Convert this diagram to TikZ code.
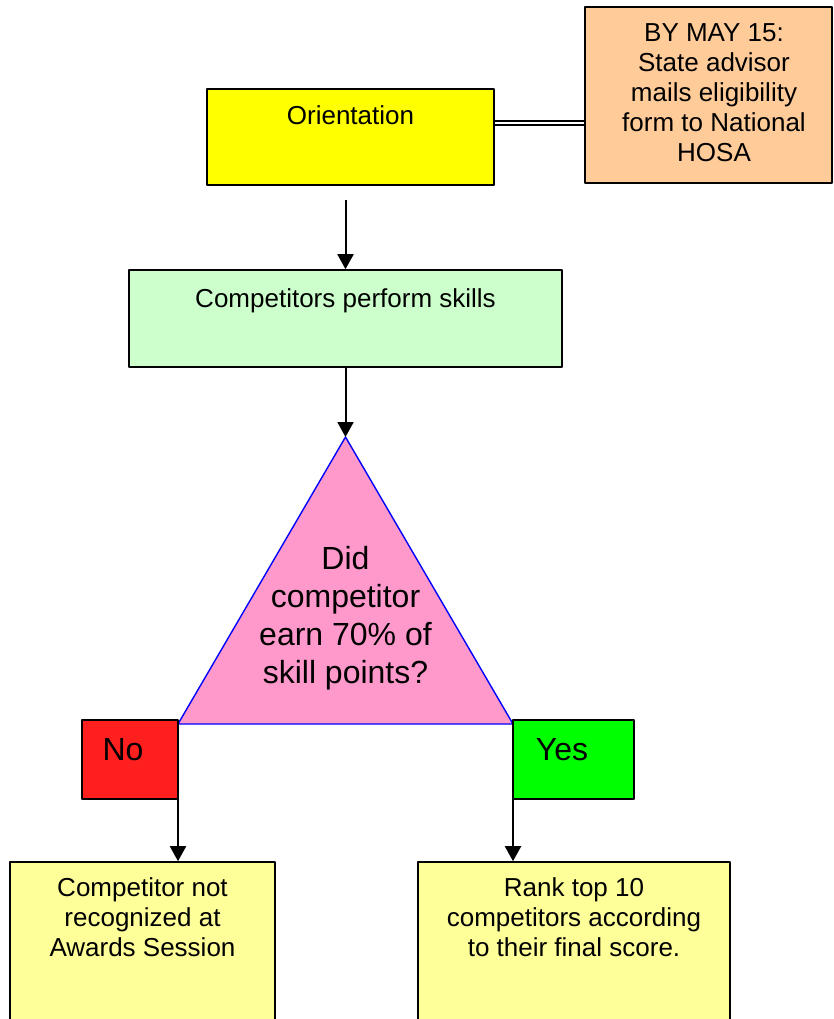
\documentclass[tikz,border=0pt]{standalone}
\usepackage{fontspec}
\setmainfont{Liberation Sans}
\usetikzlibrary{arrows.meta,positioning}
\definecolor{orientyellow}{HTML}{FFFF00}
\definecolor{deadlinepeach}{HTML}{FFCC99}
\definecolor{performgreen}{HTML}{CCFFCC}
\definecolor{questionpink}{HTML}{FF99CC}
\definecolor{nored}{HTML}{FF1F1F}
\definecolor{yesgreen}{HTML}{00FF00}
\definecolor{resultyellow}{HTML}{FFFF99}
\begin{document}
\begin{tikzpicture}[x=1pt, y=-1pt, line join=round, >={Triangle[width=16pt,length=15pt]},
	box/.style={draw=black, line width=1.6pt, inner sep=0pt},
	boxtext/.style={font=\fontsize{26}{30}\selectfont, align=center, inner sep=0pt},
	bigtext/.style={font=\fontsize{32}{38}\selectfont, align=center, inner sep=0pt},
	arr/.style={->, line width=2pt},
	link/.style={double, double distance=2.2pt, line width=2pt}]
	\clip (0,0) rectangle (833,1019);
	% boxes
	\node[box, fill=orientyellow, minimum width=287, minimum height=96] (orient) at (350.5,137) {};
	\node[box, fill=deadlinepeach, minimum width=247, minimum height=176] (deadline) at (708.5,95) {};
	\node[box, fill=performgreen, minimum width=433, minimum height=97] (perform) at (345.5,318.5) {};
	\node[box, fill=resultyellow, minimum width=265, minimum height=200] (notrec) at (142.5,962) {};
	\node[box, fill=resultyellow, minimum width=312, minimum height=200] (rank) at (574,962) {};
	% texts
	\node[boxtext, below=17pt of orient.north] (orienttxt) {Orientation};
	\node[boxtext, below=17pt of deadline.north, xshift=5.5pt] (deadlinetxt) {BY MAY 15:\\State advisor\\mails eligibility\\form to National\\HOSA};
	\node[boxtext, below=19pt of perform.north] (performtxt) {Competitors perform skills};
	\node[boxtext, below=16pt of notrec.north] (notrectxt) {Competitor not\\recognized at\\Awards Session};
	\node[boxtext, below=16pt of rank.north] (ranktxt) {Rank top 10\\competitors according\\to their final score.};
	% decision
	\path	(345.5,437) coordinate (apex)
		(178,724) coordinate (tl)
		(513,724) coordinate (tr);
	\draw[blue, line width=1.4pt, fill=questionpink] (apex)--(tl)--(tr)--cycle;
	\node[bigtext] (question) at (345.5,618) {Did\\competitor\\earn 70\% of\\skill points?};
	\node[box, fill=nored, minimum width=96, minimum height=79] (no) at (130,759.5) {};
	\node[box, fill=yesgreen, minimum width=121, minimum height=79] (yes) at (573.5,759.5) {};
	\node[bigtext, below=19pt of no.north, xshift=-7pt] (notxt) {No};
	\node[bigtext, below=19pt of yes.north, xshift=-11.5pt] (yestxt) {Yes};
	% connectors
	\draw[link] ([yshift=14.3pt]orient.east) -- ([yshift=14.3pt]orient.east -| deadline.west);
	\draw[arr, shorten <=14pt] (perform.north |- orient.south) -- (perform.north);
	\draw[arr] (perform.south) -- (apex);
	\foreach \c/\n in {tl/notrec, tr/rank} \draw[arr] (\c) -- (\c |- \n.north);
\end{tikzpicture}
\end{document}
